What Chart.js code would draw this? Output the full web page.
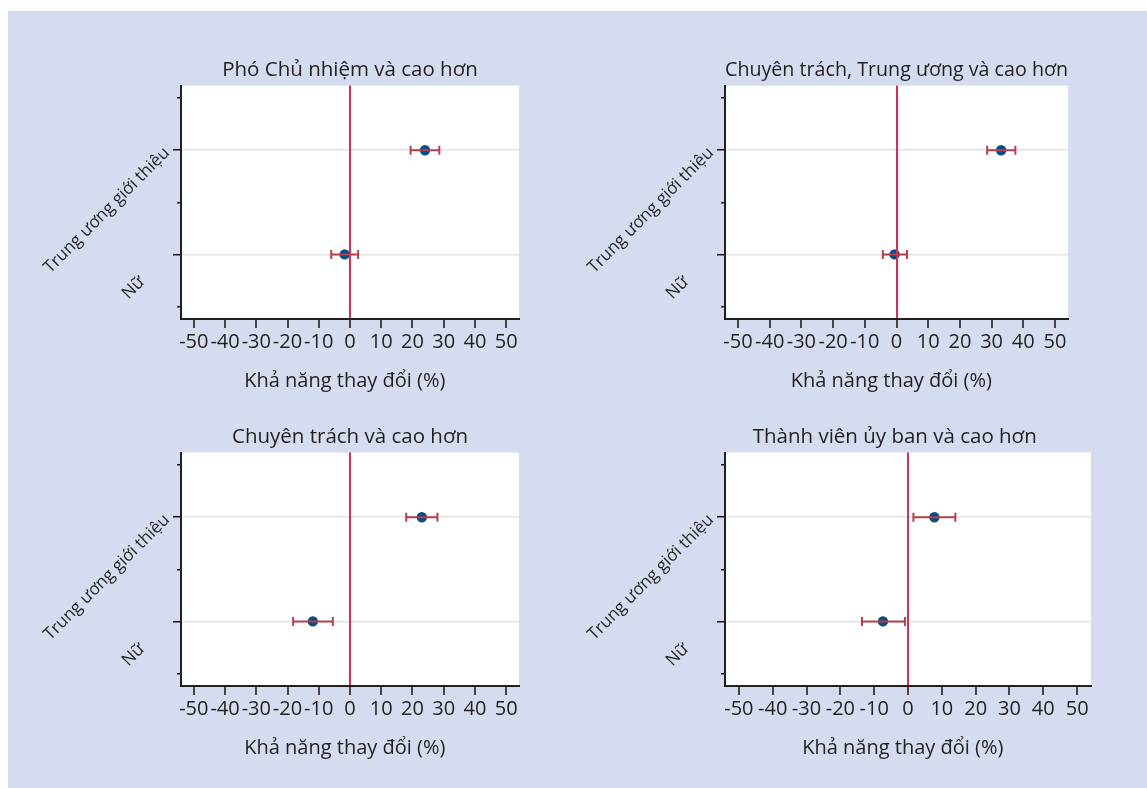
<!DOCTYPE html>
<html>
<head>
<meta charset="utf-8">
<script src="https://cdn.jsdelivr.net/npm/chart.js@4.4.0/dist/chart.umd.min.js"></script>
<style>
    body { margin: 0; width: 1147px; height: 788px; overflow: hidden; background: #fff; }
    #bg { position: absolute; left: 8px; top: 11px; right: 0; bottom: 0; background: #d6dcef; }
    canvas { position: absolute; }
</style>
</head>
<body>
<div id="bg"></div>
<canvas id="c0" width="560" height="395" style="left:8px;top:11px"></canvas>
<canvas id="c1" width="579" height="395" style="left:568px;top:11px"></canvas>
<canvas id="c2" width="560" height="382" style="left:8px;top:406px"></canvas>
<canvas id="c3" width="579" height="382" style="left:568px;top:406px"></canvas>
<script>
// Du lieu
const panelTitles = [
    'Phó Chủ nhiệm và cao hơn',
    'Chuyên trách, Trung ương và cao hơn',
    'Chuyên trách và cao hơn',
    'Thành viên ủy ban và cao hơn'
];
const categories = ['Nữ', 'Trung ương giới thiệu'];   // y = 1, 2
const xTitle = 'Khả năng thay đổi (%)';

// uoc luong diem, theo panel: [Nữ, Trung ương giới thiệu]
const estimates = [[-1.7, 24.0], [-0.6, 33.0], [-11.9, 23.0], [-7.4, 7.8]];
const lowerCI   = [[-6.0, 19.4], [-4.3, 28.6], [-18.2, 18.0], [-13.6, 1.6]];
const upperCI   = [[2.6, 28.6], [3.3, 37.5], [-5.5, 28.0], [-0.9, 14.0]];

const xTicks = [-50, -40, -30, -20, -10, 0, 10, 20, 30, 40, 50];
const yTicks = [0.5, 1, 1.5, 2, 2.5];

// bo cuc tung panel
const layouts = [
    { left: 23, right: 49, top: 47, bottom: 13 },
    { left: 7,  right: 79, top: 47, bottom: 13 },
    { left: 23, right: 49, top: 19, bottom: 28 },
    { left: 7,  right: 56, top: 19, bottom: 28 }
];
// Stata khong can giua tieu de panel cuoi
const titleShift = [0, 0, 0, 5];

const TEXT = '#231f20';
const DOT = '#0c4c7f';
const BAR = '#b3404e';
const ZERO = '#dc2a50';
const NBSP = '\u00a0';

Chart.defaults.font.family = "'Open Sans', sans-serif";
Chart.defaults.color = TEXT;

const plotBg = {
    id: 'plotBg',
    beforeDraw(chart) {
        const { ctx, chartArea: a } = chart;
        ctx.save();
        ctx.fillStyle = '#fff';
        ctx.fillRect(a.left, a.top, a.right - a.left, a.bottom - a.top);
        ctx.restore();
    }
};

function yLabel(v) {
    const i = categories.findIndex((c, k) => k + 1 === v);
    if (i < 0) return '';
    // nhan "Nữ" bi day lui theo huong xoay
    return i === 0 ? categories[i] + NBSP.repeat(8) : categories[i];
}

function makeChart(p) {
    const datasets = [];
    // error bars
    categories.forEach((c, i) => {
        datasets.push({
            data: [{ x: lowerCI[p][i], y: i + 1 }, { x: upperCI[p][i], y: i + 1 }],
            showLine: true,
            borderColor: BAR,
            borderWidth: 2,
            pointStyle: 'line',
            pointRotation: 90,
            pointRadius: 4.5,
            pointBorderColor: BAR,
            pointBorderWidth: 2,
            order: 0
        });
    });
    datasets.push({
        data: categories.map((c, i) => ({ x: estimates[p][i], y: i + 1 })),
        pointRadius: 5.2,
        backgroundColor: DOT,
        borderWidth: 0,
        pointBorderWidth: 0,
        order: 1
    });

    return new Chart(document.getElementById('c' + p), {
        type: 'scatter',
        data: { datasets },
        plugins: [plotBg],
        options: {
            responsive: false,
            animation: false,
            events: [],
            layout: { padding: layouts[p] },
            plugins: {
                legend: { display: false },
                tooltip: { enabled: false },
                title: {
                    display: true,
                    text: panelTitles[p] + NBSP.repeat(titleShift[p]),
                    fullSize: false,
                    color: TEXT,
                    font: { size: 20.5, weight: 'normal', lineHeight: 1.2 },
                    padding: { top: 0, bottom: 3 }
                }
            },
            scales: {
                y: {
                    type: 'linear',
                    min: 0.38,
                    max: 2.62,
                    afterBuildTicks: s => { s.ticks = yTicks.map(v => ({ value: v })); },
                    afterFit: s => { s.width = 150; },
                    border: { color: TEXT, width: 2 },
                    grid: {
                        color: c => Number.isInteger(c.tick.value) ? '#e3e3e3' : 'rgba(0,0,0,0)',
                        lineWidth: 1.5,
                        tickLength: 8,
                        tickColor: TEXT,
                        tickWidth: 1.6,
                        tickBorderDash: c => Number.isInteger(c.tick.value) ? [] : [4, 4],
                        tickBorderDashOffset: c => Number.isInteger(c.tick.value) ? 0 : 4
                    },
                    ticks: {
                        minRotation: 45,
                        maxRotation: 45,
                        padding: 6,
                        labelOffset: c => !c.tick ? 0 : (c.tick.value === 2 ? -10 : -6),
                        autoSkip: false,
                        color: TEXT,
                        font: { size: 17 },
                        callback: v => yLabel(v)
                    }
                },
                x: {
                    type: 'linear',
                    min: -54.1,
                    max: 54.1,
                    afterBuildTicks: s => { s.ticks = xTicks.map(v => ({ value: v })); },
                    afterFit: s => { s.height = 74; },
                    border: { color: TEXT, width: 2, z: 2 },
                    grid: {
                        z: 1,
                        color: c => c.tick && c.tick.value === 0 ? ZERO : 'rgba(0,0,0,0)',
                        lineWidth: 2,
                        tickLength: 9,
                        tickColor: TEXT,
                        tickWidth: 1.6
                    },
                    ticks: {
                        minRotation: 0,
                        maxRotation: 0,
                        autoSkip: false,
                        padding: 2,
                        color: TEXT,
                        font: { size: 20 }
                    },
                    title: {
                        display: true,
                        text: xTitle + NBSP.repeat(2),
                        color: TEXT,
                        font: { size: 20, lineHeight: 1.2 },
                        padding: { top: 0, bottom: 0 }
                    }
                }
            }
        }
    });
}

panelTitles.forEach((t, p) => makeChart(p));
</script>
</body>
</html>
